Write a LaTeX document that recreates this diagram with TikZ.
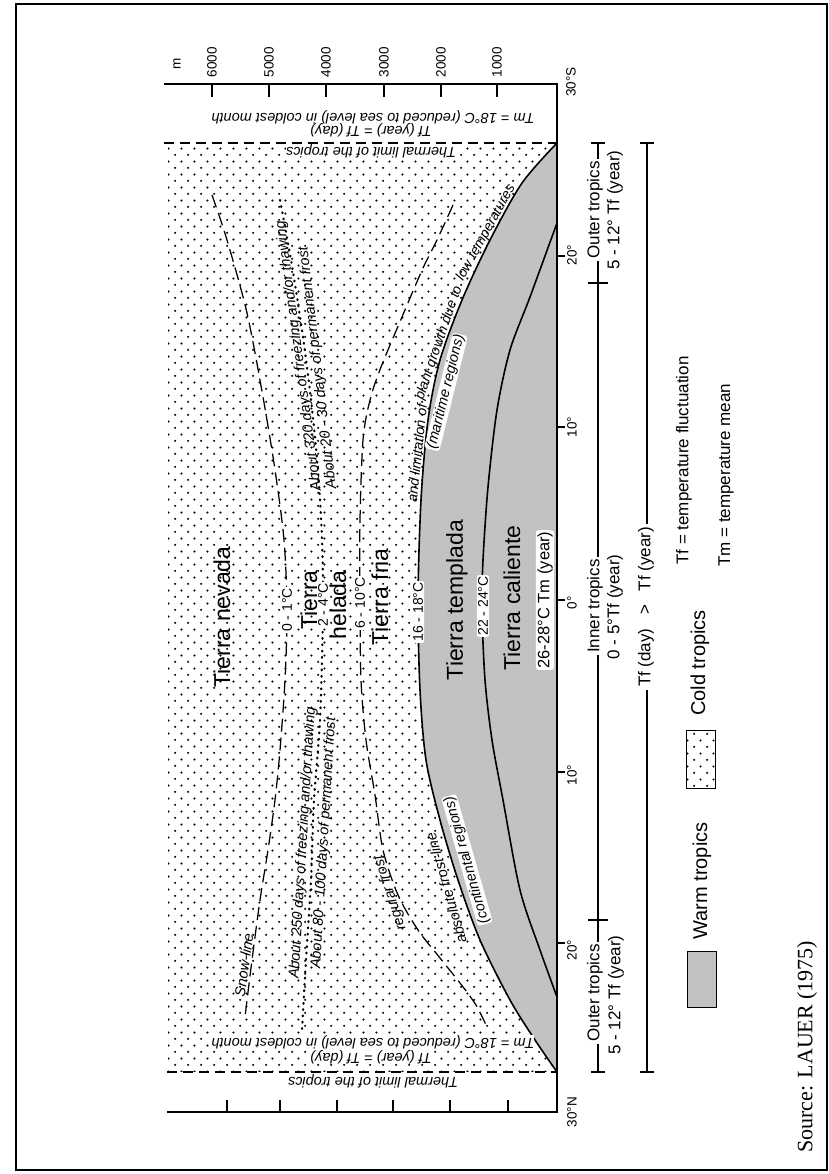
\documentclass[tikz,border=0pt]{standalone}
\usepackage{fontspec}
\setmainfont{Liberation Sans}
\newfontfamily\srcfont{Liberation Serif}
\usetikzlibrary{patterns}
\pgfdeclarepatternformonly{stipple}{\pgfqpoint{0pt}{0pt}}{\pgfqpoint{13.3pt}{13.3pt}}{\pgfqpoint{13.3pt}{13.3pt}}{%
  \pgfpathcircle{\pgfqpoint{3.3pt}{3.3pt}}{1.25pt}%
  \pgfpathcircle{\pgfqpoint{9.95pt}{9.95pt}}{1.25pt}%
  \pgfusepath{fill}}
\definecolor{warm}{gray}{0.76}
\begin{document}
\begin{tikzpicture}[x=1pt,y=-1pt,
  every node/.style={inner sep=0pt},
  bigl/.style={font=\fontsize{23}{25}\selectfont, rotate=90},
  linelab/.style={font=\fontsize{14}{16}\selectfont, rotate=90, fill=white, rounded corners=2pt, inner sep=1.2pt},
  itl/.style={font=\itshape\fontsize{14.5}{16}\selectfont},
  itls/.style={font=\itshape\fontsize{14}{16}\selectfont},
  ticklab/.style={font=\fontsize{13.5}{15}\selectfont, rotate=90},
  brk/.style={font=\fontsize{17}{19}\selectfont, rotate=90},
  axisline/.style={line width=1.3pt},
  solidcurve/.style={line width=1.6pt},
  dashcurve/.style={line width=1.25pt, dash pattern=on 13pt off 6pt},
  dotcurve/.style={line width=2.2pt, line cap=round, dash pattern=on 0.8pt off 5.5pt},
  limitline/.style={line width=1.3pt, dash pattern=on 10pt off 6pt},
]
\useasboundingbox (0,0) rectangle (829,1174);
\draw[line width=2pt] (16,4) rectangle (827,1170);

% cold tropics (stippled) and warm tropics (grey)
\fill[pattern=stipple] (168,143) -- plot[smooth] coordinates {(557,143) (522,183) (490,240) (462,300) (440,360) (428,420) (421,500) (418,600) (420,690) (426,760) (440,820) (458,880) (480,940) (510,1000) (535,1040) (557,1072)} -- (168,1072) -- cycle;
\fill[warm] plot[smooth] coordinates {(557,143) (522,183) (490,240) (462,300) (440,360) (428,420) (421,500) (418,600) (420,690) (426,760) (440,820) (458,880) (480,940) (510,1000) (535,1040) (557,1072)} -- cycle;

% solid isotherms
\draw[solidcurve] plot[smooth] coordinates {(557,143) (522,183) (490,240) (462,300) (440,360) (428,420) (421,500) (418,600) (420,690) (426,760) (440,820) (458,880) (480,940) (510,1000) (535,1040) (557,1072)};
\draw[solidcurve] plot[smooth] coordinates {(557,223) (530,297) (510,350) (497,410) (488,487) (483,560) (482,610) (485,680) (492,740) (503,800) (520,890) (540,950) (557,997)};

% dashed and dotted lines
\draw[dashcurve] plot[smooth] coordinates {(212,195) (227,240) (247,313) (263,397) (275,470) (284,540) (287,610) (285,680) (280,750) (275,800) (268,850) (260,900) (252,960) (245,1017)};
\draw[dotcurve] plot[smooth] coordinates {(280,200) (291,260) (302,330) (311,400) (318,470) (322,540) (323,610) (320,720) (314,800) (311,880) (306,960) (302,1030)};
\draw[dashcurve] plot[smooth] coordinates {(453,205) (437,240) (423,268) (402,317) (381,367) (370,400) (363,440) (360,520) (360,600) (361,680) (366,740) (375,795) (383,850) (398,895) (418,930) (440,958) (460,983) (476,1005) (487,1027)};

% thermal limits
\draw[limitline] (164,143) -- (557,143);
\draw[limitline] (167,1072) -- (557,1072);

% axes
\draw[axisline] (164,84) -- (557,84) -- (557,1112) -- (167,1112);
\foreach \x in {212,269,326,384,441,497} \draw[axisline] (\x,84) -- (\x,97);
\foreach \x in {227,280,337,393,450,508} \draw[axisline] (\x,1112) -- (\x,1100);
\foreach \y in {256,427,600,772,943} \draw[axisline] (557,\y) -- (565,\y);

\node[ticklab] (m) at (177,64) {m};
\node[ticklab] (h6) at (212,62) {6000};
\node[ticklab] (h5) at (269,62) {5000};
\node[ticklab] (h4) at (326,62) {4000};
\node[ticklab] (h3) at (384,62) {3000};
\node[ticklab] (h2) at (441,62) {2000};
\node[ticklab] (h1) at (497,62) {1000};

\node[ticklab] (s30) at (571,82) {30°S};
\node[ticklab] (s20) at (572,255) {20°};
\node[ticklab] (s10) at (572,427) {10°};
\node[ticklab] (eq) at (572,603) {0°};
\node[ticklab] (n10) at (572,775) {10°};
\node[ticklab] (n20) at (572,950) {20°};
\node[ticklab] (n30) at (572,1112) {30°N};

% brackets
\draw[axisline] (598,143) -- (598,1072);
\foreach \y in {143,1072} \draw[axisline] (591,\y) -- (605,\y);
\foreach \y in {283,920} \draw[axisline] (588,\y) -- (608,\y);
\draw[axisline] (647,143) -- (647,1072);
\foreach \y in {143,1072} \draw[axisline] (640,\y) -- (654,\y);

\node[brk, fill=white, inner sep=2pt] (ot1) at (595,210) {Outer tropics};
\node[brk] (ot1b) at (615,210) {5 - 12° Tf (year)};
\node[brk, fill=white, inner sep=2pt] (it) at (595,606) {Inner tropics};
\node[brk] (itb) at (615,607) {0 - 5°Tf (year)};
\node[brk, fill=white, inner sep=2pt] (ot2) at (595,993) {Outer tropics};
\node[brk] (ot2b) at (616,995) {5 - 12° Tf (year)};
\node[brk, fill=white, inner sep=3pt] (tfd) at (646,607) {Tf (day)\hspace{0.8em}>\hspace{0.8em}Tf (year)};

% isotherm labels
\node[linelab] (c01) at (287,610) {0 - 1°C};
\node[linelab] (c24) at (323,605) {2 - 4°C};
\node[linelab] (c610) at (360,603) {6 - 10°C};
\node[linelab] (c1618) at (418,612) {16 - 18°C};
\node[linelab] (c2224) at (483,606) {22 - 24°C};

% zone names
\node[bigl] (nevada) at (222,617) {Tierra nevada};
\node[bigl] (tierra) at (309,600) {Tierra};
\node[bigl] (helada) at (338,605) {helada};
\node[bigl] (fria) at (380,597) {Tierra fria};
\node[bigl] (templada) at (457,600) {Tierra templada};
\node[bigl] (caliente) at (512,598) {Tierra caliente};
\node[font=\fontsize{16.5}{18}\selectfont, rotate=90, fill=white, rounded corners=3pt, inner sep=1.5pt] (tm2628) at (545,600) {26-28°C Tm (year)};

% italic annotations
\node[itl, rotate=82] (snow) at (244,965) {Snow-line};
\node[itl, rotate=86.5] (a250) at (303,843) {About 250 days of freezing and/or thawing};
\node[itl, rotate=86.5] (a80) at (324,843) {About 80 - 100 days of permanent frost};
\node[itl, rotate=97.7] (a320) at (299,356) {About 320 days of freezing and/or thawing};
\node[itl, rotate=96.8] (a20) at (318,368) {About 20 - 30 days of permanent frost};
\node[itl, rotate=108] (regfrost) at (390,893) {regular frost};
\node[itl, rotate=106] (absfrost) at (446,888) {absolute frost-line};
\node[itl, rotate=106, fill=white, rounded corners=3pt, inner sep=1pt] (cont) at (467,860) {(continental regions)};
\node[itl, rotate=76, fill=white, rounded corners=3pt, inner sep=1pt] (mari) at (446,392) {(maritime regions)};
\node[itls, rotate=84] (lim1) at (417,453) {and limitation of};
\node[itls, rotate=71] (lim2) at (439,343) {plant growth due to};
\node[itls, rotate=61] (lim3) at (486,233) {low temperatures};

% thermal limit labels
\node[itl, rotate=180] (tm18a) at (373,117) {Tm = 18°C (reduced to sea level) in coldest month};
\node[itl, rotate=180] (tfa) at (371,130) {Tf (year) = Tf (day)};
\node[itl, rotate=180, fill=white] (thla) at (371,151) {Thermal limit of the tropics};
\node[itl, rotate=180, fill=white] (tm18b) at (373,1042) {Tm = 18°C (reduced to sea level) in coldest month};
\node[itl, rotate=180, fill=white] (tfb) at (371,1057) {Tf (year) = Tf (day)};
\node[itl, rotate=180] (thlb) at (373,1081) {Thermal limit of the tropics};

% legend
\draw[line width=1pt, pattern=stipple] (686,730) rectangle (715,788);
\draw[line width=1pt, fill=warm] (687,951) rectangle (716,1007);
\node[font=\fontsize{20}{22}\selectfont, rotate=90] (cold) at (700,663) {Cold tropics};
\node[font=\fontsize{20}{22}\selectfont, rotate=90] (warmlab) at (702,881) {Warm tropics};
\node[font=\fontsize{17}{19}\selectfont, rotate=90, anchor=west] (tfdef) at (684,565) {Tf = temperature fluctuation};
\node[font=\fontsize{17}{19}\selectfont, rotate=90, anchor=west] (tmdef) at (726,567) {Tm = temperature mean};
\node[font=\srcfont\fontsize{22}{24}\selectfont, rotate=90, anchor=west] (src) at (807,1153) {Source: LAUER (1975)};
\end{tikzpicture}
\end{document}
